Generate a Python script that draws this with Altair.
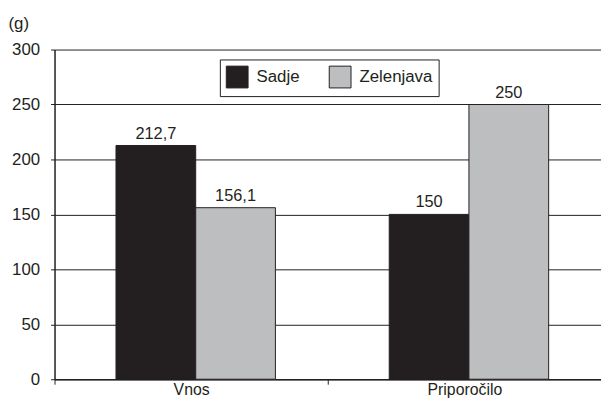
import altair as alt
import pandas as pd

categories = ["Vnos", "Vnos", "Priporočilo", "Priporočilo"]
series = ["Sadje", "Zelenjava", "Sadje", "Zelenjava"]
values = [212.7, 156.1, 150, 250]
labels = ["212,7", "156,1", "150", "250"]

df = pd.DataFrame({"cat": categories, "ser": series, "val": values, "lab": labels})

FONT = "Liberation Sans"
DARK = "#231f20"
GRAY = "#bcbec0"

x = alt.X("cat:N", sort=["Vnos", "Priporočilo"], title=None,
          scale=alt.Scale(paddingInner=0, paddingOuter=0),
          axis=alt.Axis(tickBand="extent", labelAngle=0, grid=False, domainColor=DARK,
                        domainWidth=1.5, tickColor=DARK, tickSize=5, labelFont=FONT,
                        labelFontSize=16, labelColor=DARK, labelPadding=-3))
xo = alt.XOffset("ser:N", sort=["Sadje", "Zelenjava"],
                 scale=alt.Scale(paddingInner=0, paddingOuter=0.714, align=0.54))
y = alt.Y("val:Q", scale=alt.Scale(domain=[0, 300], nice=False),
          axis=alt.Axis(values=[0, 50, 100, 150, 200, 250, 300], grid=True, gridColor=DARK,
                        gridWidth=1, domainColor=DARK, domainWidth=1.5, tickColor=DARK,
                        tickSize=4, labelFont=FONT, labelFontSize=17, labelColor=DARK,
                        labelPadding=11, title="(g)", titleAngle=0, titleX=-47, titleY=-26,
                        titleAlign="left", titleBaseline="middle", titleFont=FONT,
                        titleFontSize=17, titleFontWeight="normal", titleColor=DARK))

color = alt.Color("ser:N", sort=["Sadje", "Zelenjava"],
                  scale=alt.Scale(domain=["Sadje", "Zelenjava"], range=[DARK, GRAY]),
                  legend=alt.Legend(title=None, orient="none", legendX=167, legendY=10,
                                    direction="horizontal", strokeColor=DARK, padding=6,
                                    symbolType="square", symbolSize=484,
                                    symbolStrokeColor=DARK, symbolStrokeWidth=1,
                                    symbolOpacity=1, labelFont=FONT, labelFontSize=17,
                                    labelColor=DARK, labelOffset=8, columnPadding=27,
                                    fillColor="white"))

bars = alt.Chart(df).mark_bar(stroke=DARK, strokeWidth=1).encode(
    x=x, xOffset=xo, y=y, color=color)

text = alt.Chart(df).mark_text(baseline="alphabetic", dy=-7, font=FONT, fontSize=16.5,
                               color=DARK).encode(
    x=alt.X("cat:N", sort=["Vnos", "Priporočilo"]),
    xOffset=alt.XOffset("ser:N", sort=["Sadje", "Zelenjava"]),
    y="val:Q", text="lab:N")

chart = (bars + text).properties(
    width=552, height=333,
    autosize=alt.AutoSizeParams(type="none"),
    padding={"left": 47, "top": 40, "right": 0, "bottom": 19},
    background="white",
).configure_view(stroke=None)

chart.save("out.html", embed_options={"renderer": "svg", "actions": False})
